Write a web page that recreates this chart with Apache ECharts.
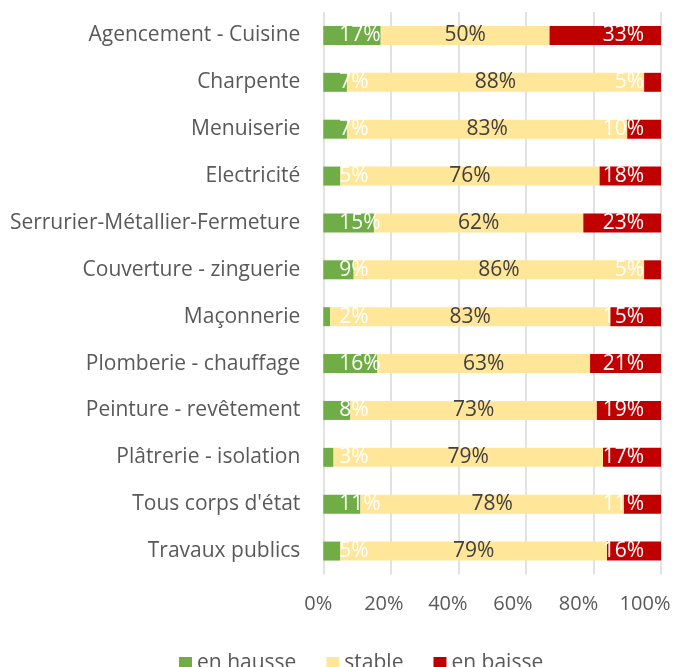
<!DOCTYPE html>
<html>
<head>
<meta charset="utf-8">
<script src="https://cdn.jsdelivr.net/npm/echarts@6/dist/echarts.min.js"></script>
<style>html,body{margin:0;padding:0;background:#fff}#c{width:689px;height:667px}</style>
</head>
<body>
<div id="c"></div>
<script>
const categories = ["Agencement - Cuisine","Charpente","Menuiserie","Electricité","Serrurier-Métallier-Fermeture","Couverture - zinguerie","Maçonnerie","Plomberie - chauffage","Peinture - revêtement","Plâtrerie - isolation","Tous corps d'état","Travaux publics"];
const enHausse = [17,7,7,5,15,9,2,16,8,3,11,5];
const stable   = [50,88,83,76,62,86,83,63,73,79,78,79];
const enBaisse = [33,5,10,18,23,5,15,21,19,17,11,16];
const xTicks = [0,20,40,60,80,100];

const FONT = "Open Sans";
// 100% stacked: each bar is normalised to its total
const totals = categories.map((c,i)=>enHausse[i]+stable[i]+enBaisse[i]);
const norm = arr => arr.map((v,i)=>({value: v*100/totals[i], raw: v}));

const chart = echarts.init(document.getElementById('c'), null, {renderer:'canvas'});
const rich = {};
const pads = [10,14,21,26,30,32];
xTicks.forEach((t,i)=>{ rich['p'+i] = {padding:[0,pads[i],0,0], fontFamily:FONT, fontSize:20, color:'#595959'}; });

function lbl(pos, color, dist){
  return {show:true, position:pos, distance:dist, color:color, fontFamily:FONT, fontSize:21, formatter:p=>p.data.raw+'%'};
}
chart.setOption({
  animation:false,
  grid:{left:323.3, right:28, top:12, bottom:92.5, containLabel:false},
  legend:{
    data:['en hausse','stable','en baisse'],
    left:174, top:648, itemWidth:13, itemHeight:13, itemGap:30, icon:'rect',
    textStyle:{fontFamily:FONT, fontSize:21, color:'#595959'}
  },
  xAxis:{
    type:'value', min:0, max:100, interval:20,
    axisLine:{show:false}, axisTick:{show:false},
    splitLine:{lineStyle:{color:'#d9d9d9', width:1.5}},
    axisLabel:{margin:20, formatter:v=>'{p'+xTicks.indexOf(v)+'|'+v+'%}', rich:rich}
  },
  yAxis:{
    type:'category', data:categories, inverse:true,
    axisLine:{show:false}, axisTick:{show:false},
    axisLabel:{margin:23, fontFamily:FONT, fontSize:21, color:'#595959'}
  },
  series:[
    {name:'en hausse', type:'bar', stack:'s', data:norm(enHausse), barWidth:19, itemStyle:{color:'#70AD47'}, label:lbl('insideLeft','#ffffff',16)},
    {name:'stable', type:'bar', stack:'s', data:norm(stable), barWidth:19, itemStyle:{color:'#FFE699'}, label:lbl('inside','#404040',0)},
    {name:'en baisse', type:'bar', stack:'s', data:norm(enBaisse), barWidth:19, itemStyle:{color:'#C00000'}, label:lbl('insideRight','#ffffff',17)}
  ]
});
</script>
</body>
</html>
